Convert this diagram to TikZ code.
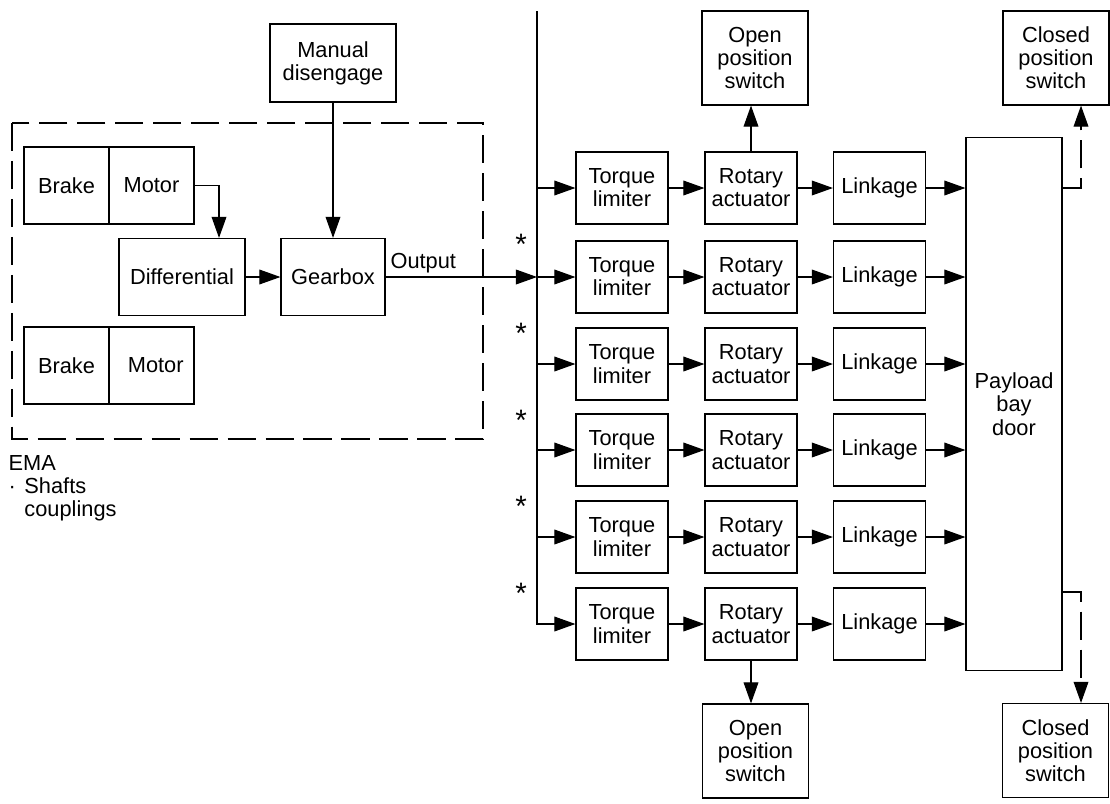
\documentclass[tikz,border=0pt]{standalone}
\usepackage{fontspec}
\setmainfont{Liberation Sans}
\usetikzlibrary{arrows.meta}

\begin{document}
\begin{tikzpicture}[x=0.025cm, y=-0.025cm,
    font=\fontsize{15.5}{16.5}\selectfont,
    line width=0.8pt,
    >={Triangle[length=15pt,width=10.5pt]},
    blk/.style={rectangle, draw, inner sep=0pt, align=center, minimum width=2.3cm, minimum height=1.8cm},
    ema/.style={blk, minimum width=2.125cm, minimum height=1.925cm},
    sw/.style={blk, minimum width=2.65cm, minimum height=2.35cm},
    dsh/.style={dash pattern=on 20pt off 7pt}]
  \useasboundingbox (0,0) rectangle (1110,803);

  % EMA unit
  \draw[dsh] (12,123) rectangle (483,439);
  \node[ema] (brake1) at (66.5,185.5) {Brake};
  \node[ema] (motor1) at (151.5,185.5) {Motor};
  \node[ema] (brake2) at (66.5,365.5) {Brake};
  \node[ema] (motor2) at (151.5,365.5) {\hspace{6pt}Motor};
  \node[ema, minimum width=3.15cm] (diff) at (182,277) {Differential};
  \node[ema, minimum width=2.6cm] (gearbox) at (333,277) {Gearbox};
  \node[blk, minimum width=3.15cm, minimum height=1.95cm] (manual) at (333,63) {Manual\\disengage};
  \node[anchor=north west, align=left, inner sep=0pt] (ematxt) at (8,455)
    {EMA\\\makebox[11.3pt][l]{·}Shafts\\\hspace*{11.3pt}couplings};

  \draw[->] (motor1.east) -| ([xshift=0.925cm]diff.north);
  \draw[->] (diff) -- (gearbox);
  \draw[->] (manual) -- (gearbox);

  % Output shaft and bus
  \coordinate (bustop) at (537,11);
  \draw[->] (gearbox.east) -- (bustop |- gearbox.east);
  \node[anchor=base west, inner sep=0pt] (outtxt) at (390,268) {Output};

  % Door and switches
  \node[blk, minimum width=2.4cm, minimum height=13.3cm] (door) at (1014,404) {Payload\\bay\\door};
  \node[sw] (open1) at (755,58) {Open\\position\\switch};
  \node[sw] (open2) at (755.5,751) {Open\\position\\switch};
  \node[sw] (closed1) at (1056,58) {Closed\\position\\switch};
  \node[sw] (closed2) at (1055.5,750.5) {Closed\\position\\switch};

  % Actuator rows
  \foreach \i/\y in {1/188,2/277,3/364,4/450,5/537,6/624} {
    \node[blk] (tl\i) at (622,\y) {Torque\\limiter};
    \node[blk] (ra\i) at (751,\y) {Rotary\\actuator};
    \node[blk] (link\i) at (879.5,\y) {Linkage};
    \draw[->] (tl\i) -- (ra\i);
    \draw[->] (ra\i) -- (link\i);
    \draw[->] (link\i) -- (link\i.east -| door.west);
  }
  \draw[->] (bustop) |- (tl6.west);
  \foreach \i in {1,...,5} {
    \draw[->] (bustop |- tl\i.west) -- (tl\i.west);
    \node[font=\fontsize{21}{21}\selectfont] (star\i) at ([yshift=-1.4cm]bustop |- tl\i.west) [xshift=-0.4cm] {*};
  }

  % Position switch connectors
  \draw[->] (ra1.north) -- (ra1.north |- open1.south);
  \draw[->] (ra6.south) -- (ra6.south |- open2.north);
  \coordinate (cup) at (1081,188);
  \coordinate (cdn) at (1081,592);
  \draw[->, dsh] (door.east |- cup) -- (cup) -- (cup |- closed1.south);
  \draw[->, dsh] (door.east |- cdn) -- (cdn) -- (cdn |- closed2.north);
\end{tikzpicture}
\end{document}
